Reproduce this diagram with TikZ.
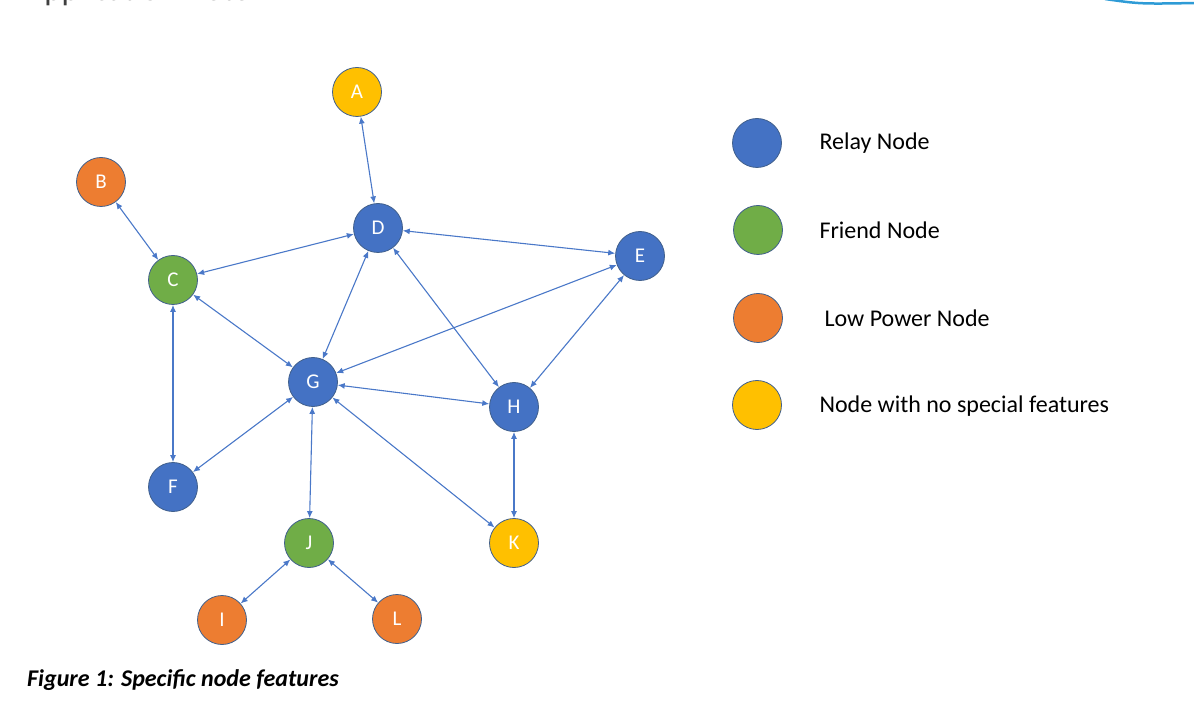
\documentclass[tikz,border=0pt]{standalone}
\usepackage{fontspec}
\setmainfont{Carlito}
\usetikzlibrary{arrows.meta}
\definecolor{relay}{HTML}{4472C4}
\definecolor{friend}{HTML}{70AD47}
\definecolor{lowpower}{HTML}{ED7D31}
\definecolor{plain}{HTML}{FFC000}
\definecolor{rim}{HTML}{41608C}
\definecolor{linkc}{HTML}{4A78C8}
\definecolor{headc}{HTML}{404040}
\definecolor{swoosh}{HTML}{2E9BD6}
\begin{document}
\begin{tikzpicture}[x=1pt,y=-1pt,
  nd/.style={circle, minimum size=49pt, inner sep=0pt, draw=rim, line width=0.8pt, text=white, font=\fontsize{21}{21}\selectfont},
  relaynd/.style={nd, fill=relay},
  friendnd/.style={nd, fill=friend},
  lownd/.style={nd, fill=lowpower},
  plainnd/.style={nd, fill=plain},
  link/.style={draw=linkc, line width=1.1pt, {Latex[length=7pt,width=6pt]}-{Latex[length=7pt,width=6pt]}},
  legtext/.style={anchor=west, font=\fontsize{24}{24}\selectfont, text=black},
]
\useasboundingbox (0,0) rectangle (1194,708);
\clip (0,0) rectangle (1194,708);
% header remnants
\node[anchor=base west, inner sep=0pt, text=headc, font=\fontsize{33}{33}\selectfont] (hdr) at (25,1) {Application Note};
\draw[swoosh, line width=2.5pt] (1105,-1) .. controls (1140,4) .. (1196,3);

% nodes
\node[plainnd] (A) at (357,92) {A};
\node[lownd] (B) at (101,182) {B};
\node[friendnd] (C) at (173,280) {C};
\node[relaynd] (D) at (378,228) {D};
\node[relaynd] (E) at (640,256) {E};
\node[relaynd] (G) at (313,382) {G};
\node[relaynd] (H) at (514,407) {H};
\node[relaynd] (F) at (173,487) {F};
\node[friendnd] (J) at (309,543) {J};
\node[plainnd] (K) at (514,543) {K};
\node[lownd] (I) at (222,620) {I};
\node[lownd] (L) at (397,619) {L};

% links
\draw[link] (A) -- (D);
\draw[link] (B) -- (C);
\draw[link] (D) -- (C);
\draw[link] (D) -- (E);
\draw[link] (D) -- (G);
\draw[link] (D) -- (H);
\draw[link] (E) -- (G);
\draw[link] (E) -- (H);
\draw[link] (C) -- (G);
\draw[link] (C) -- (F);
\draw[link] (G) -- (H);
\draw[link] (G) -- (F);
\draw[link] (G) -- (J);
\draw[link] (G) -- (K);
\draw[link] (H) -- (K);
\draw[link] (J) -- (I);
\draw[link] (J) -- (L);

% legend
\node[relaynd] (l1) at (757,143) {};
\node[friendnd] (l2) at (758,230) {};
\node[lownd] (l3) at (758,318) {};
\node[plainnd] (l4) at (757,405) {};
\node[legtext] (t1) at (816,143) {Relay Node};
\node[legtext] (t2) at (816,230) {Friend Node};
\node[legtext] (t3) at (821,318) {Low Power Node};
\node[legtext] (t4) at (816,406) {Node with no special features};

% caption
\node[anchor=west, inner sep=0pt, font=\bfseries\itshape\fontsize{24}{24}\selectfont] (cap) at (27,680) {Figure 1: Specific node features};
\end{tikzpicture}
\end{document}
